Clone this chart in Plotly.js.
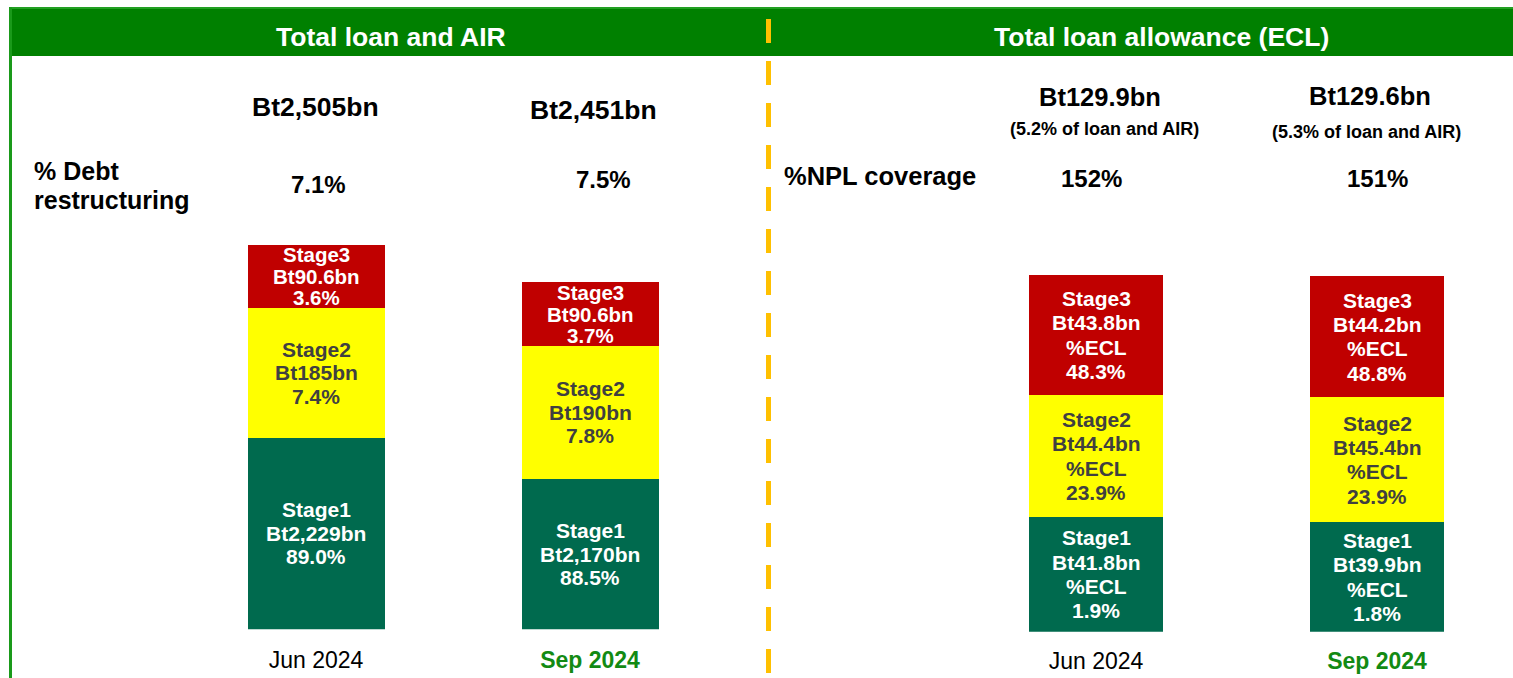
<!DOCTYPE html>
<html>
<head>
<meta charset="utf-8">
<script src="https://cdn.plot.ly/plotly-3.0.1.min.js"></script>
<style>html,body{margin:0;padding:0;background:#fff;}#chart{width:1513px;height:678px;}</style>
</head>
<body>
<div id="chart"></div>
<script>
// ---------- DATA ----------
const periods = ['Jun 2024', 'Sep 2024'];

// Total loan and AIR (Bt bn)
const loanStage1 = [2229, 2170];
const loanStage2 = [185, 190];
const loanStage3 = [90.6, 90.6];
const loanStage1Pct = ['89.0%', '88.5%'];
const loanStage2Pct = ['7.4%', '7.8%'];
const loanStage3Pct = ['3.6%', '3.7%'];
const loanTotals = [2505, 2451];
const debtRestructuring = ['7.1%', '7.5%'];

// Total loan allowance (ECL) (Bt bn)
const eclStage1 = [41.8, 39.9];
const eclStage2 = [44.4, 45.4];
const eclStage3 = [43.8, 44.2];
const eclStage1Pct = ['1.9%', '1.8%'];
const eclStage2Pct = ['23.9%', '23.9%'];
const eclStage3Pct = ['48.3%', '48.8%'];
const eclTotals = [129.9, 129.6];
const eclOfLoan = ['5.2%', '5.3%'];
const nplCoverage = ['152%', '151%'];

// ---------- STYLE / LAYOUT ----------
const W = 1513, H = 678;
const px = x => x / W;
const py = y => 1 - y / H;
const FONT = 'Arial, "Liberation Sans", sans-serif';
const C1 = '#006A4E', C2 = '#FFFF00', C3 = '#C00000';
const TXT2 = '#404040';
const GREEN = '#008000';

const yLeftRange = [1955, 1955 + (629.3 - 60) / 0.70];
const yRightRange = [0, (631.7 - 60) / 2.746];

const fmt = v => 'Bt' + v.toLocaleString('en-US') + 'bn';

const xi = [0, 1];
const traces = [
  {x: xi, y: loanStage1, type: 'bar', xaxis: 'x', yaxis: 'y', marker: {color: C1}, width: 0.5},
  {x: xi, y: loanStage2, type: 'bar', xaxis: 'x', yaxis: 'y', marker: {color: C2}, width: 0.5},
  {x: xi, y: loanStage3, type: 'bar', xaxis: 'x', yaxis: 'y', marker: {color: C3}, width: 0.5},
  {x: xi, y: eclStage1, type: 'bar', xaxis: 'x2', yaxis: 'y2', marker: {color: C1}, width: 0.477},
  {x: xi, y: eclStage2, type: 'bar', xaxis: 'x2', yaxis: 'y2', marker: {color: C2}, width: 0.477},
  {x: xi, y: eclStage3, type: 'bar', xaxis: 'x2', yaxis: 'y2', marker: {color: C3}, width: 0.477}
].map(t => Object.assign(t, {hoverinfo: 'skip', marker: Object.assign(t.marker, {line: {width: 0}})}));

const ann = [];
function block(xref, yref, x, yc, lines, color, size, spacing) {
  const n = lines.length;
  lines.forEach((s, i) => {
    ann.push({xref, yref, x, y: yc, text: '<b>' + s + '</b>', showarrow: false,
      xanchor: 'center', yanchor: 'middle', yshift: -(i - (n - 1) / 2) * spacing,
      font: {family: FONT, size, color}});
  });
}

const BAR_FS = 21;
// left panel segment labels
for (let i = 0; i < 2; i++) {
  const s1lo = Math.max(yLeftRange[0], 0);
  const s1hi = loanStage1[i];
  const s2hi = s1hi + loanStage2[i];
  const s3hi = s2hi + loanStage3[i];
  block('x', 'y', i, (s1lo + s1hi) / 2, ['Stage1', fmt(loanStage1[i]), loanStage1Pct[i]], '#fff', BAR_FS, 23.5);
  block('x', 'y', i, (s1hi + s2hi) / 2, ['Stage2', fmt(loanStage2[i]), loanStage2Pct[i]], TXT2, BAR_FS, 23.5);
  block('x', 'y', i, (s2hi + s3hi) / 2, ['Stage3', fmt(loanStage3[i]), loanStage3Pct[i]], '#fff', BAR_FS - 0.5, 21.5);
}
// right panel segment labels
for (let i = 0; i < 2; i++) {
  const a = eclStage1[i], b = a + eclStage2[i], c = b + eclStage3[i];
  block('x2', 'y2', i, a / 2, ['Stage1', fmt(eclStage1[i]), '%ECL', eclStage1Pct[i]], '#fff', BAR_FS, 24.3);
  block('x2', 'y2', i, (a + b) / 2, ['Stage2', fmt(eclStage2[i]), '%ECL', eclStage2Pct[i]], TXT2, BAR_FS, 24.3);
  block('x2', 'y2', i, (b + c) / 2, ['Stage3', fmt(eclStage3[i]), '%ECL', eclStage3Pct[i]], '#fff', BAR_FS, 24.3);
}

function txt(xref, x, yPix, text, size, opts) {
  ann.push(Object.assign({xref, yref: 'paper', x, y: py(yPix), text: '<b>' + text + '</b>', showarrow: false,
    xanchor: 'center', yanchor: 'middle', font: {family: FONT, size, color: '#000'}}, opts || {}));
}
// headers
txt('paper', px(391), 37, 'Total loan and AIR', 26.5, {font: {family: FONT, size: 26.5, color: '#fff'}});
txt('paper', px(1161), 37, 'Total loan allowance (ECL)', 26.5, {font: {family: FONT, size: 26.5, color: '#fff'}});
// left panel top texts
const leftTotY = [107, 110], leftPctY = [184, 180], leftPctShift = [2, 13];
for (let i = 0; i < 2; i++) {
  txt('x', i, leftTotY[i], fmt(loanTotals[i]), 26.5, {xshift: i ? 3 : -1});
  txt('x', i, leftPctY[i], debtRestructuring[i], 24, {xshift: leftPctShift[i]});
}
txt('paper', px(32), 171, '% Debt', 25, {xanchor: 'left'});
txt('paper', px(32), 200, 'restructuring', 25, {xanchor: 'left'});
// right panel top texts
const rTotY = [97, 96], rSubY = [129, 132], rNplY = [178, 178];
const rTotShift = [4, -7], rSubShift = [8, -11], rNplShift = [-5, 0];
for (let i = 0; i < 2; i++) {
  txt('x2', i, rTotY[i], fmt(eclTotals[i]), 25.5, {xshift: rTotShift[i]});
  txt('x2', i, rSubY[i], '(' + eclOfLoan[i] + ' of loan and AIR)', 18, {xshift: rSubShift[i]});
  txt('x2', i, rNplY[i], nplCoverage[i], 24, {xshift: rNplShift[i]});
}
txt('paper', px(782), 176, '%NPL coverage', 25.5, {xanchor: 'left'});

const shapes = [
  {type: 'rect', xref: 'paper', yref: 'paper', x0: px(9), x1: px(1513), y0: py(56), y1: py(7),
    fillcolor: GREEN, line: {width: 0}, layer: 'above'},
  {type: 'line', xref: 'paper', yref: 'paper', x0: px(9), x1: px(1513), y0: py(8), y1: py(8),
    line: {color: '#22A022', width: 2}, layer: 'above'},
  {type: 'line', xref: 'paper', yref: 'paper', x0: px(10.5), x1: px(10.5), y0: py(7), y1: py(678),
    line: {color: '#1A9A1A', width: 3}, layer: 'above'},
  {type: 'line', xref: 'paper', yref: 'paper', x0: px(768.5), x1: px(768.5), y0: py(19), y1: py(678),
    line: {color: '#FFC000', width: 5, dash: '24px,18px'}, layer: 'above'}
];

const tickFont = {family: FONT, size: 23, color: '#000'};
const tickText = ['Jun 2024', '<span style="color:#138A13"><b>Sep 2024</b></span>'];

const layout = {
  width: W, height: H,
  margin: {l: 0, r: 0, t: 0, b: 0},
  paper_bgcolor: '#fff', plot_bgcolor: 'rgba(0,0,0,0)',
  showlegend: false, barmode: 'stack', bargap: 0,
  font: {family: FONT},
  xaxis: {domain: [px(30), px(760)], range: [-(316 - 30) / 274, 1 + (760 - 590) / 274],
    tickvals: [0, 1], ticktext: tickText, tickfont: tickFont, showgrid: false, zeroline: false,
    showline: false, ticks: '', ticklabelstandoff: 15, anchor: 'y', fixedrange: true},
  yaxis: {domain: [py(629.3), py(60)], range: yLeftRange, visible: false, fixedrange: true},
  xaxis2: {domain: [px(780), px(1500)], range: [-(1096 - 780) / 281, 1 + (1500 - 1377) / 281],
    tickvals: [0, 1], ticktext: tickText, tickfont: tickFont, showgrid: false, zeroline: false,
    showline: false, ticks: '', ticklabelstandoff: 13, anchor: 'y2', fixedrange: true},
  yaxis2: {domain: [py(631.7), py(60)], range: yRightRange, visible: false, fixedrange: true},
  annotations: ann,
  shapes: shapes
};

Plotly.newPlot('chart', traces, layout, {displayModeBar: false, staticPlot: true});
</script>
</body>
</html>
